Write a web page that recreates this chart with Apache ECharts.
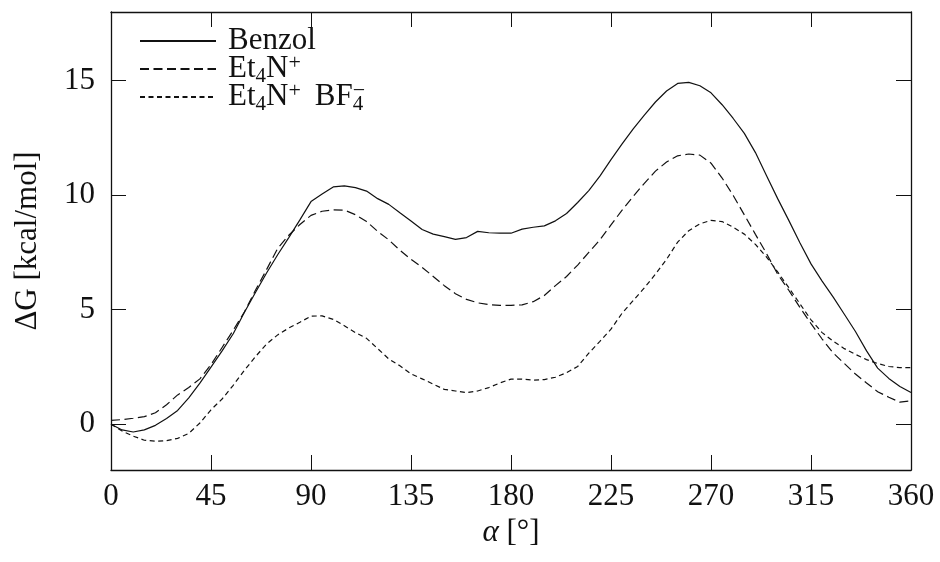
<!DOCTYPE html>
<html>
<head>
<meta charset="utf-8">
<title>ΔG(α)</title>
<script src="https://cdn.jsdelivr.net/npm/echarts@6/dist/echarts.min.js"></script>
<style>
  html, body { margin: 0; padding: 0; background: #fff; }
  #chart { width: 940px; height: 562px; }
</style>
</head>
<body>
<div id="chart"></div>
<script>
// Torsion angle α in degrees
const angles = [
  0, 5, 10, 15, 20, 25, 30, 35, 40, 45, 50, 55, 60, 65, 70, 75, 80, 85, 90,
  95, 100, 105, 110, 115, 120, 125, 130, 135, 140, 145, 150, 155, 160, 165, 170, 175, 180,
  185, 190, 195, 200, 205, 210, 215, 220, 225, 230, 235, 240, 245, 250, 255, 260, 265, 270,
  275, 280, 285, 290, 295, 300, 305, 310, 315, 320, 325, 330, 335, 340, 345, 350, 355, 360
];

// ΔG in kcal/mol
const benzol = [
  0, -0.25, -0.34, -0.25, -0.05, 0.25, 0.6, 1.15, 1.79, 2.49, 3.2, 3.95, 4.88, 5.75, 6.6, 7.4, 8.15, 8.92, 9.72,
  10.05, 10.36, 10.41, 10.33, 10.18, 9.85, 9.6, 9.23, 8.87, 8.5, 8.3, 8.19, 8.07, 8.15, 8.42, 8.36, 8.34, 8.34,
  8.52, 8.6, 8.66, 8.88, 9.2, 9.68, 10.2, 10.83, 11.55, 12.24, 12.9, 13.5, 14.07, 14.55, 14.88, 14.93, 14.78, 14.47,
  13.95, 13.35, 12.7, 11.86, 10.85, 9.85, 8.9, 7.92, 7.0, 6.25, 5.55, 4.8, 4.05, 3.2, 2.45, 2.0, 1.65, 1.38
];

const et4n = [
  0.17, 0.2, 0.26, 0.33, 0.5, 0.85, 1.28, 1.6, 1.98, 2.6, 3.35, 4.1, 4.9, 5.85, 6.75, 7.68, 8.25, 8.72, 9.12,
  9.3, 9.36, 9.35, 9.15, 8.85, 8.42, 8.05, 7.6, 7.2, 6.85, 6.45, 6.05, 5.7, 5.45, 5.3, 5.22, 5.19, 5.19,
  5.21, 5.35, 5.62, 6.05, 6.45, 6.95, 7.5, 8.05, 8.7, 9.35, 9.95, 10.52, 11.05, 11.45, 11.72, 11.8, 11.75, 11.4,
  10.75, 9.99, 9.14, 8.29, 7.45, 6.55, 5.85, 5.1, 4.39, 3.72, 3.11, 2.65, 2.19, 1.8, 1.42, 1.18, 0.96, 1.02
];

const et4nBf4 = [
  0, -0.3, -0.52, -0.7, -0.74, -0.72, -0.62, -0.4, 0.05, 0.63, 1.1, 1.7, 2.35, 2.95, 3.5, 3.9, 4.2, 4.45, 4.72,
  4.73, 4.58, 4.3, 4.0, 3.75, 3.3, 2.85, 2.55, 2.2, 1.98, 1.75, 1.52, 1.45, 1.38, 1.45, 1.6, 1.8, 1.97,
  1.97, 1.92, 1.95, 2.05, 2.25, 2.52, 3.1, 3.62, 4.15, 4.85, 5.4, 5.95, 6.55, 7.2, 7.95, 8.45, 8.75, 8.9,
  8.85, 8.6, 8.3, 7.85, 7.3, 6.65, 5.96, 5.26, 4.56, 4.0, 3.62, 3.3, 3.05, 2.82, 2.65, 2.52, 2.47, 2.47
];

// Labelled y ticks (the axis itself runs from -2 to 18)
const yTicks = [0, 5, 10, 15];

const seriesNames = ['Benzol', 'Et4N+', 'Et4N+ BF4-'];

const FONT = '"Liberation Serif", "Times New Roman", serif';
const INK = '#111';

function pairs(values) {
  return angles.map((a, i) => [a, values[i]]);
}

const chart = echarts.init(document.getElementById('chart'), null, { renderer: 'canvas' });

const tickStyle = { inside: true, length: 15, lineStyle: { color: INK, width: 1 } };

function xAxisDef(pos, showLabels) {
  return {
    type: 'value', position: pos, min: 0, max: 360, interval: 45,
    axisLine: { show: true, onZero: false, lineStyle: { color: INK, width: 1.3 } },
    axisTick: tickStyle,
    splitLine: { show: false },
    axisLabel: { show: showLabels, color: INK, fontFamily: FONT, fontSize: 31, margin: 11 },
    name: showLabels ? '{i|α} [°]' : '',
    nameLocation: 'middle', nameGap: 37,
    nameTextStyle: {
      color: INK, fontFamily: FONT, fontSize: 31,
      rich: { i: { fontFamily: FONT, fontStyle: 'italic', fontSize: 31, color: INK } }
    }
  };
}

function yAxisDef(pos, showLabels) {
  return {
    type: 'value', position: pos, min: -2, max: 18,
    axisLine: { show: true, onZero: false, lineStyle: { color: INK, width: 1.3 } },
    axisTick: Object.assign({ customValues: yTicks }, tickStyle),
    splitLine: { show: false },
    axisLabel: { show: showLabels, customValues: yTicks, color: INK, fontFamily: FONT, fontSize: 31, margin: 16 },
    name: showLabels ? 'ΔG [kcal/mol]' : '',
    nameLocation: 'middle', nameGap: 68,
    nameTextStyle: { color: INK, fontFamily: FONT, fontSize: 31 }
  };
}

// Chemical formulae in the legend: sub-/superscripts as rich-text fragments.
// A tall line box lets the bottom/top aligned fragments sit below/above the main text.
const LEGEND_LH = 36;
const legendRich = {
  m: { fontFamily: FONT, fontSize: 31, color: INK, lineHeight: LEGEND_LH },
  sub: { fontFamily: FONT, fontSize: 21, color: INK, verticalAlign: 'bottom' },
  subz: { fontFamily: FONT, fontSize: 21, color: INK, verticalAlign: 'bottom', width: 0 },
  sup: { fontFamily: FONT, fontSize: 22, color: INK, verticalAlign: 'top', padding: [1, 0, 0, 0] },
  gap: { fontFamily: FONT, fontSize: 31, color: INK, lineHeight: LEGEND_LH, width: 14 }
};

const legendText = {
  'Benzol': '{m|Benzol}',
  'Et4N+': '{m|Et}{sub|4}{m|N}{sup|+}',
  'Et4N+ BF4-': '{m|Et}{sub|4}{m|N}{sup|+}{gap| }{m|BF}{subz|4}{sup|−}'
};

function lineSeries(name, values, type) {
  return {
    name: name, type: 'line', data: pairs(values),
    symbol: 'none', smooth: false, silent: true,
    lineStyle: { color: INK, width: 1.2, type: type },
    itemStyle: { color: INK }
  };
}

chart.setOption({
  animation: false,
  backgroundColor: '#fff',
  grid: { left: 111, right: 29, top: 12, bottom: 92, containLabel: false },
  xAxis: [xAxisDef('bottom', true), xAxisDef('top', false)],
  yAxis: [yAxisDef('left', true), yAxisDef('right', false)],
  legend: {
    orient: 'vertical', left: 139, top: 23, padding: 0,
    itemWidth: 76, itemHeight: 14, itemGap: 28 - LEGEND_LH,
    data: seriesNames,
    formatter: (n) => legendText[n],
    itemStyle: { color: 'rgba(0,0,0,0)', borderWidth: 0, opacity: 0 },
    textStyle: { fontFamily: FONT, fontSize: 31, color: INK, lineHeight: LEGEND_LH, padding: [0, 0, 0, 7], rich: legendRich }
  },
  series: [
    lineSeries(seriesNames[0], benzol, 'solid'),
    lineSeries(seriesNames[1], et4n, [9, 4.5]),
    lineSeries(seriesNames[2], et4nBf4, [5, 3.5])
  ]
});
</script>
</body>
</html>
